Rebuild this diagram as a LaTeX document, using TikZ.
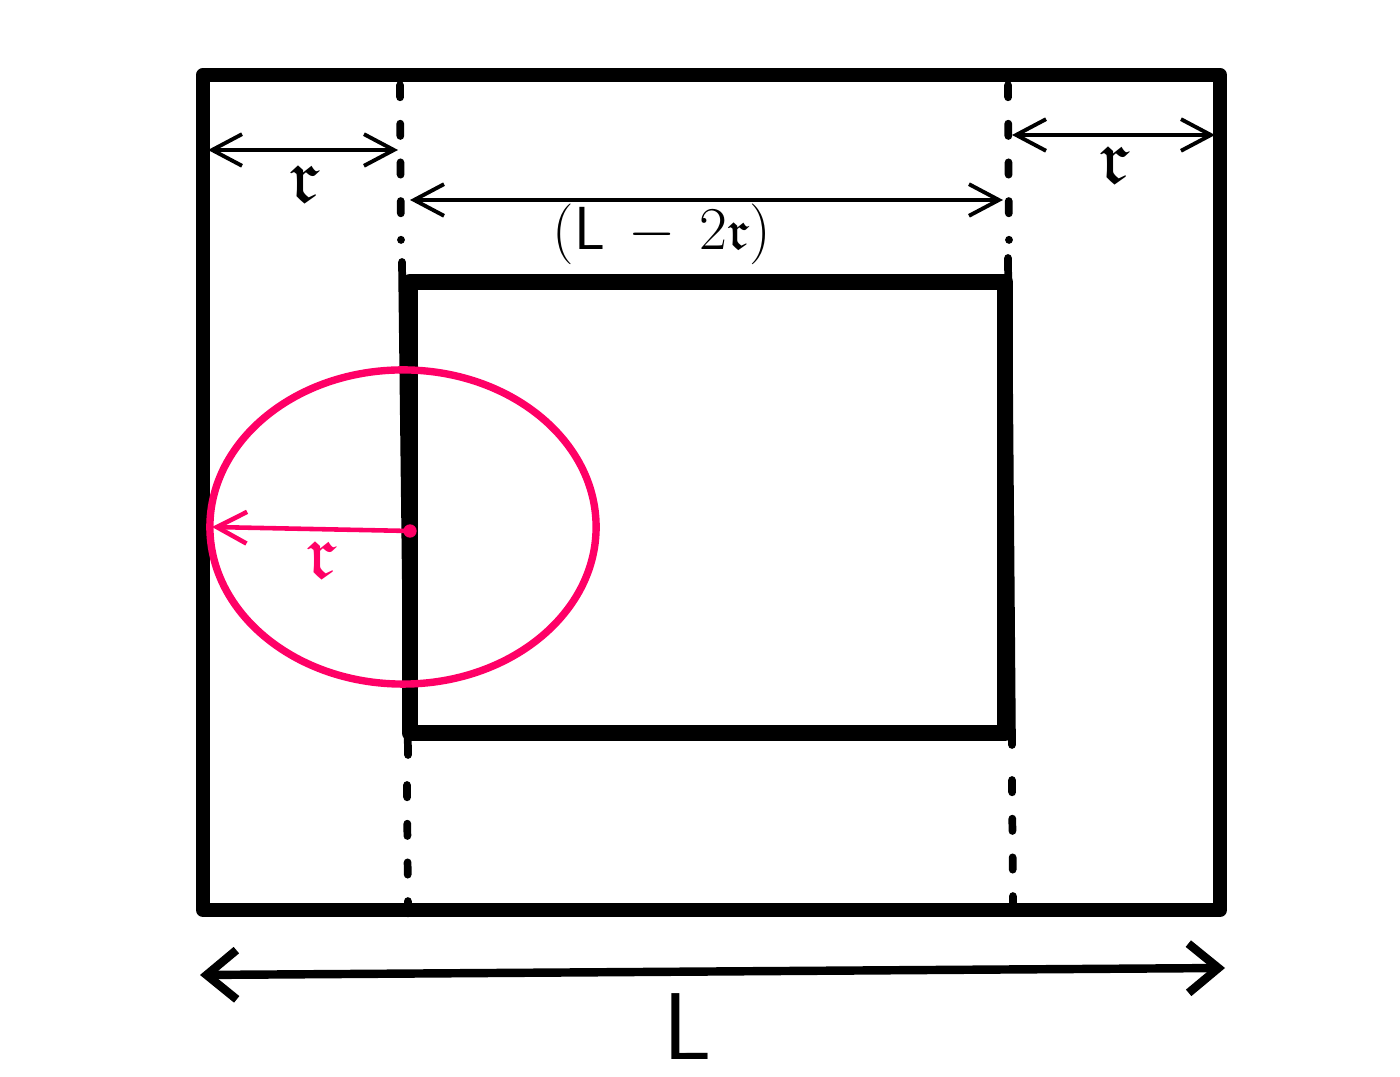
\documentclass[tikz,border=0pt]{standalone}
\usepackage{amssymb}
\usetikzlibrary{arrows.meta}
\definecolor{pinkred}{RGB}{255,0,102}

\begin{document}
\begin{tikzpicture}[x=0.01cm,y=-0.01cm,
  wall/.style={line width=4pt,line join=round,line cap=round},
  guide/.style={line width=2.2pt,line cap=round,dash pattern=on 3.5pt off 7.5pt},
  dim/.style={line width=1.1pt,{Straight Barb[length=8.5pt,width=9pt]}-{Straight Barb[length=8.5pt,width=9pt]}},
  lbl/.style={font=\fontsize{22}{22}\selectfont,inner sep=0pt}]
\useasboundingbox (0,0) rectangle (1400,1077);
% walls
\draw [wall] (203,75) rectangle (1220,910);
\draw [wall,line width=4.6pt] (410,282) rectangle (1005,733);
% guide lines
\draw [guide] (400,85) -- (401,240);
\draw [line width=2.2pt,line cap=round] (402,262) -- (408,755);
\draw [guide] (407,785) -- (408,915);
\draw [guide] (1008,85) -- (1009,240);
\draw [line width=2.2pt,line cap=round] (1008,258) -- (1012,745);
\draw [guide] (1012,780) -- (1013,905);
% dimensions
\coordinate (wallL) at (208,150);
\coordinate (guideL) at (398,150);
\coordinate (innerL) at (410,200);
\coordinate (innerR) at (1003,200);
\coordinate (guideR) at (1012,135);
\coordinate (wallR) at (1215,135);
\coordinate (baseL) at (200,975);
\coordinate (baseR) at (1225,968);
\draw [dim] (wallL) -- (guideL);
\draw [dim] (innerL) -- (innerR);
\draw [dim] (guideR) -- (wallR);
\draw [line width=2.4pt,{Straight Barb[length=8.5pt,width=14pt]}-{Straight Barb[length=8.5pt,width=14pt]}] (baseL) -- (baseR);
\node [lbl] (rLeft) at (305,184) {$\mathfrak{r}$};
\node [lbl] (rRight) at (1115,165) {$\mathfrak{r}$};
\node [font=\fontsize{16}{16}\selectfont,inner sep=0pt] (inner) at (662,234) {$(\mathsf{L}\,-\,2\mathfrak{r})$};
\node [font=\fontsize{27}{27}\selectfont\sffamily,inner sep=0pt] (len) at (688,1027) {L};
% circle
\coordinate (centre) at (410,531);
\coordinate (rim) at (212,527);
\draw [pinkred,line width=2.1pt] (403,527) ellipse [x radius=1.93cm, y radius=1.57cm];
\draw [pinkred,line width=1.3pt,-{Straight Barb[length=8.5pt,width=9pt]}] (centre) -- (rim);
\fill [pinkred] (centre) circle [radius=1.9pt];
\node [lbl,text=pinkred] (rCircle) at (322,560) {$\mathfrak{r}$};
\end{tikzpicture}
\end{document}
